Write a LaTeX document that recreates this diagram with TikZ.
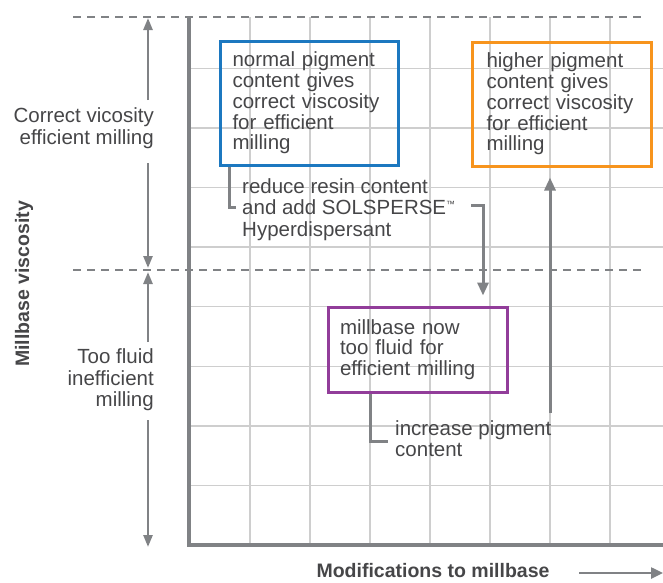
\documentclass[tikz,border=0pt]{standalone}
\usepackage{fontspec}
\setmainfont{Liberation Sans}
\usetikzlibrary{arrows.meta}
\definecolor{txt}{RGB}{70,70,72}
\definecolor{axisgray}{RGB}{128,130,133}
\definecolor{gridgray}{RGB}{206,206,206}
\definecolor{bluebox}{RGB}{28,120,192}
\definecolor{orangebox}{RGB}{247,148,29}
\definecolor{purplebox}{RGB}{146,61,154}
\begin{document}
\begin{tikzpicture}[x=1pt,y=-1pt,
  lbl/.style={font=\fontsize{20.5}{21.5}\selectfont, text=txt, inner sep=0pt},
  boldlbl/.style={font=\fontsize{19.5}{21}\selectfont\bfseries, text=txt, inner sep=0pt},
  boxnode/.style={draw=#1, line width=3pt, font=\fontsize{20.5}{20.8}\selectfont, text=txt, align=left, anchor=north west, inner ysep=0pt},
  gridline/.style={draw=gridgray, line width=1.4pt},
  dashline/.style={draw=axisgray, line width=2pt, dash pattern=on 8pt off 6pt},
  axisline/.style={draw=axisgray, line width=4.5pt},
  conn/.style={draw=axisgray, line width=3pt},
  tipped/.style={-{Triangle[length=13pt,width=11pt]}},
  dbl/.style={draw=axisgray, line width=2.5pt, -{Triangle[length=12pt,width=9pt]}}
]
\useasboundingbox (0,0) rectangle (663,582);
% grid
\foreach \x in {250,310,370,430,490,550,610} \draw[gridline] (\x,17) -- (\x,545);
\foreach \k in {1,...,8} \draw[gridline] (189,545-59.6*\k) -- (663,545-59.6*\k);
% dashed limits
\draw[dashline] (73,17) -- (642,17);
\draw[dashline] (73,270) -- (642,270);
% axes
\draw[axisline] (189,17) -- (189,545) -- (663,545);
% boxes
\node[boxnode=bluebox, text width=153pt, inner xsep=12.5pt, minimum height=124pt] (blue) at (218.5,39.5)
  {normal pigment\\content gives\\correct viscosity\\for efficient\\milling};
\node[boxnode=orangebox, text width=150pt, inner xsep=14.5pt, minimum height=124pt] (orange) at (470.5,40.5)
  {higher pigment\\content gives\\correct viscosity\\for efficient\\milling};
\node[boxnode=purplebox, text width=155pt, inner xsep=12pt, minimum height=85pt] (purple) at (326.5,305.5)
  {millbase now\\too fluid for\\efficient milling};
% left labels
\node[lbl, align=right, anchor=east] (cv) at (154,128) {Correct vicosity\\efficient milling};
\node[lbl, align=right, anchor=east] (tf) at (154,380) {Too fluid\\inefficient\\milling};
\coordinate (a1t) at (148,18);
\coordinate (a1b) at (148,100);
\coordinate (a2t) at (148,163);
\coordinate (a2b) at (148,268);
\coordinate (a3t) at (148,272);
\coordinate (a3b) at (148,342);
\coordinate (a4t) at (148,420);
\coordinate (a4b) at (148,547);
\draw[dbl] (a1b) -- (a1t);
\draw[dbl] (a2t) -- (a2b);
\draw[dbl] (a3b) -- (a3t);
\draw[dbl] (a4t) -- (a4b);
% axis titles
\node[boldlbl, rotate=90] (ytitle) at (24,284) {Millbase viscosity};
\node[boldlbl, anchor=base] (xtitle) at (433,577) {Modifications to millbase};
\coordinate (xa1) at (579,573);
\coordinate (xa2) at (663,573);
\draw[conn, line width=2.5pt, -{Triangle[length=12pt,width=11pt]}] (xa1) -- (xa2);
% step labels
\node[lbl, align=left, anchor=north west] (reduce) at (242,178)
  {reduce resin content\\and add SOLSPERSE\raisebox{7pt}{\fontsize{9}{9}\selectfont ™}\\Hyperdispersant};
\node[lbl, align=left, anchor=north west] (increase) at (395,420)
  {increase pigment\\content};
% connectors
\coordinate (r1) at (229,207);
\coordinate (r2) at (236,207);
\draw[conn] (blue.south -| r1) -- (r1) -- (r2);
\coordinate (s1) at (471,205);
\coordinate (s2) at (483,205);
\draw[conn, tipped, shorten >=10pt] (s1) -- (s2) -- (purple.north -| s2);
\coordinate (i1) at (370,441);
\coordinate (i2) at (388,441);
\draw[conn] (purple.south -| i1) -- (i1) -- (i2);
\coordinate (u1) at (550,413);
\draw[conn, tipped, shorten >=10pt] (u1) -- (orange.south -| u1);
\end{tikzpicture}
\end{document}
